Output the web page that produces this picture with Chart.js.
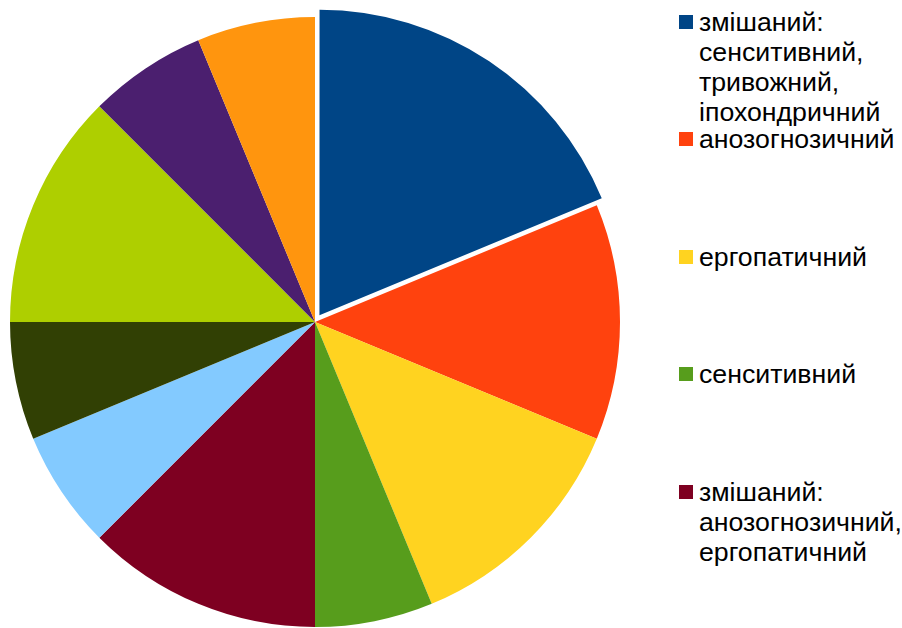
<!DOCTYPE html>
<html lang="uk">
<head>
<meta charset="utf-8">
<title>Pie chart</title>
<script src="https://cdn.jsdelivr.net/npm/chart.js@4"></script>
<style>
  html, body { margin: 0; padding: 0; background: #fff; overflow: hidden; }
  #wrap { position: relative; width: 902px; height: 628px; overflow: hidden; }
  #pie { position: absolute; left: 0; top: 0; }
  .legend-item {
    position: absolute; left: 679px; width: 223px;
    font-family: "Liberation Sans", Arial, sans-serif;
    font-size: 26.7px; line-height: 30px; color: #000;
  }
  .legend-item .box { position: absolute; left: 0; top: 8px; width: 14px; height: 14px; }
  .legend-item .txt { margin-left: 20px; width: 203px; }
</style>
</head>
<body>
<div id="wrap">
  <canvas id="pie" width="630" height="644"></canvas>
</div>
<script>
// Categories (only the first five fit in the legend of the original)
const categories = [
  'змішаний: сенситивний, тривожний, іпохондричний',
  'анозогнозичний',
  'ергопатичний',
  'сенситивний',
  'змішаний: анозогнозичний, ергопатичний',
  'тривожний',
  'іпохондричний',
  'неврастенічний',
  'гармонійний',
  'змішаний: тривожний, сенситивний'
];
const counts = [3, 2, 2, 1, 2, 1, 1, 2, 1, 1];
const sliceColors = [
  '#004586', '#ff420e', '#ffd320', '#579d1c', '#7e0021',
  '#83caff', '#314004', '#aecf00', '#4b1f6f', '#ff950e'
];
// Chart.js moves an arc by offset/4 px, so 32 -> about 8 px
const explodeOffsets = [32, 0, 0, 0, 0, 0, 0, 0, 0, 0];
const legendShown = 5;

document.addEventListener('DOMContentLoaded', () => {
  new Chart(document.getElementById('pie'), {
    type: 'pie',
    data: {
      labels: categories,
      datasets: [{
        data: counts,
        backgroundColor: sliceColors,
        borderWidth: 0,
        offset: explodeOffsets
      }]
    },
    options: {
      responsive: false,
      animation: false,
      radius: 305,
      layout: { padding: 0 },
      plugins: {
        legend: { display: false },
        tooltip: { enabled: false }
      }
    }
  });

  // HTML legend, evenly spaced slots like the original
  const wrap = document.getElementById('wrap');
  for (let i = 0; i < legendShown; i++) {
    const item = document.createElement('div');
    item.className = 'legend-item';
    item.style.top = (6.5 + i * 117.5) + 'px';
    const box = document.createElement('span');
    box.className = 'box';
    box.style.background = sliceColors[i];
    const txt = document.createElement('div');
    txt.className = 'txt';
    txt.textContent = categories[i];
    item.appendChild(box);
    item.appendChild(txt);
    wrap.appendChild(item);
  }
});
</script>
</body>
</html>
